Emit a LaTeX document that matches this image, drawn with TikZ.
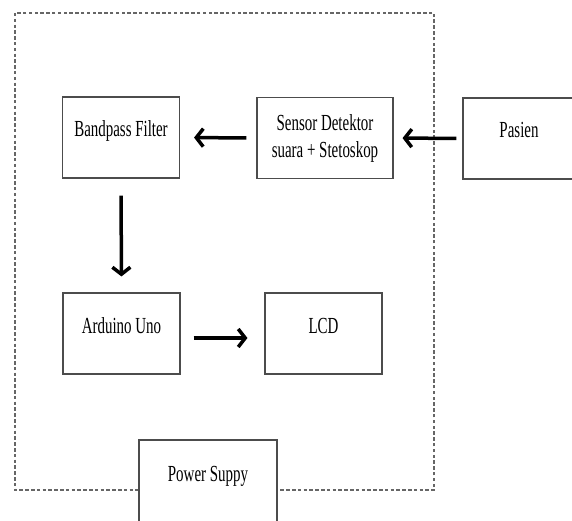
\documentclass[tikz,border=0pt]{standalone}
\usepackage{fontspec}
\setmainfont{Liberation Serif}[FakeStretch=0.65]
\usetikzlibrary{arrows.meta, positioning, calc}
\tikzset{
    blok/.style={rectangle, draw=black!70, line width=1.1pt, fill=white, inner sep=0pt, minimum width=117pt, minimum height=81pt, font=\fontsize{23}{27}\selectfont, align=center},
    satubaris/.style={text height=12pt, text depth=13pt},
    panah/.style={-{Straight Barb[length=7pt,width=18pt]}, line width=3.5pt, draw=black},
    bingkai/.style={draw=black!60, line width=1.2pt, dash pattern=on 3.5pt off 2.3pt}
}

\begin{document}
\begin{tikzpicture}[x=1pt, y=-1pt]
    \useasboundingbox (0,0) rectangle (572,521);
    \clip (0,0) rectangle (572,521);
    % dashed frame
    \draw[bingkai] (15,13) rectangle (434,490);

    \node[blok, satubaris] (bpf) at (121,137.5) {Bandpass Filter};
    \node[blok, minimum width=136pt] (sensor) at (325,138) {Sensor Detektor\\suara + Stetoskop};
    \node[blok, satubaris, minimum width=112pt] (pasien) at (519,138.5) {Pasien};
    \node[blok, satubaris] (ard) at (121.5,333.5) {Arduino Uno};
    \node[blok, satubaris] (lcd) at (323.5,333.5) {LCD};
    \node[blok, satubaris, minimum width=138pt, minimum height=84pt] (psu) at (208,482) {Power Suppy};

    % signal path
    \draw[panah, shorten <=6pt, shorten >=9pt] (pasien.west) -- (sensor.east);
    \draw[panah, shorten <=10pt, shorten >=14pt] (sensor.west) -- (bpf.east);
    \draw[panah, shorten <=17pt, shorten >=16pt] (bpf.south) -- (ard.north);
    \draw[panah, shorten <=13pt, shorten >=17pt] ([yshift=-4.5pt]ard.east) -- ([yshift=-4.5pt]lcd.west);
\end{tikzpicture}
\end{document}
